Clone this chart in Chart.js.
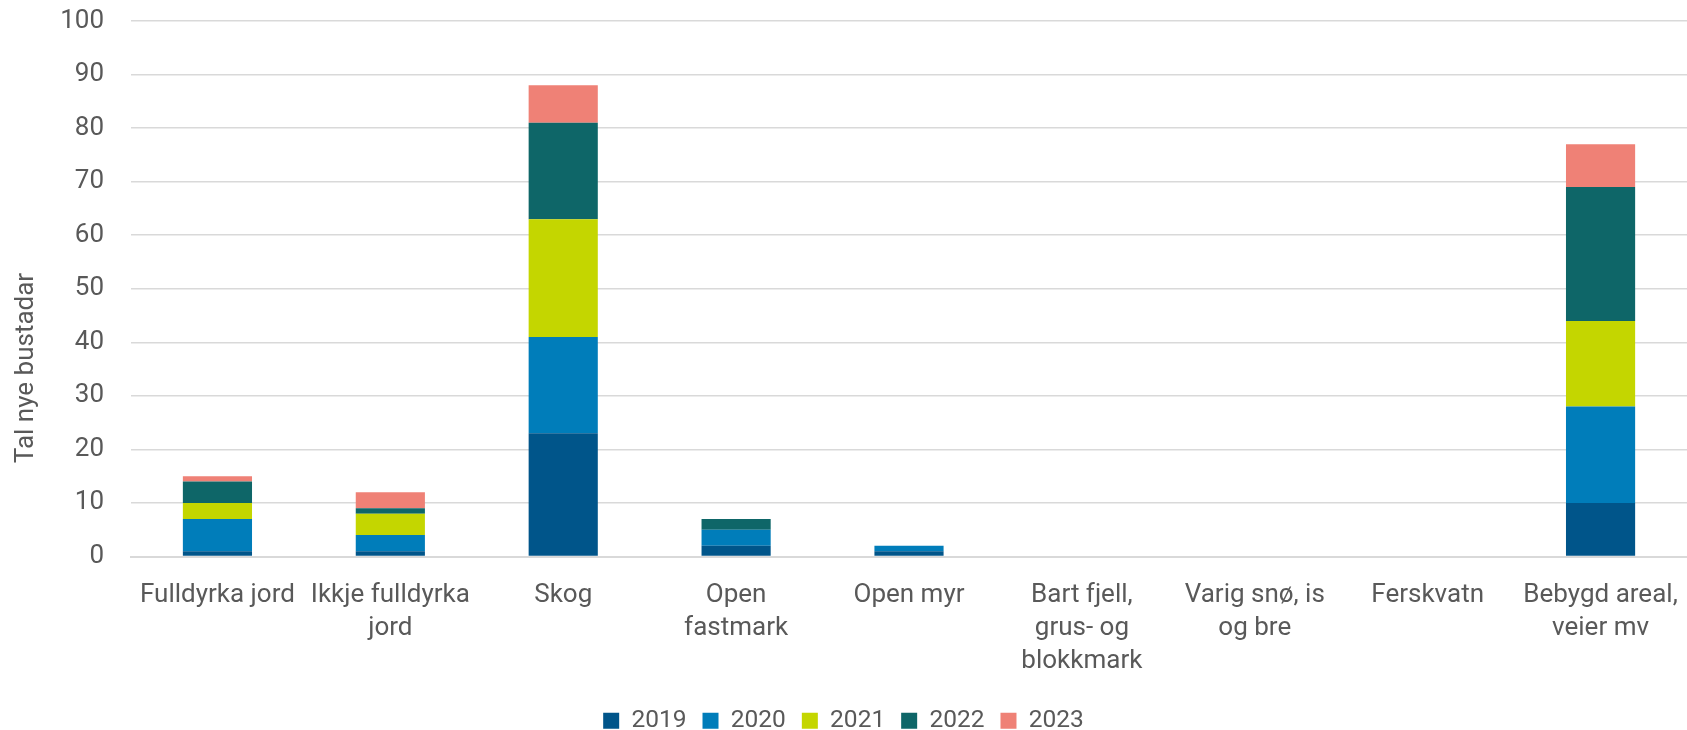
<!DOCTYPE html>
<html>
<head>
<meta charset="utf-8">
<script src="https://cdn.jsdelivr.net/npm/chart.js@4.4.1/dist/chart.umd.min.js"></script>
<style>
  html, body { margin: 0; padding: 0; background: #ffffff; }
  #wrap { width: 1687px; height: 730px; position: relative; }
</style>
</head>
<body>
<div id="wrap"><canvas id="c" width="1687" height="730"></canvas></div>
<script>
const categories = [
  "Fulldyrka jord",
  ["Ikkje fulldyrka", "jord"],
  "Skog",
  ["Open", "fastmark"],
  "Open myr",
  ["Bart fjell,", "grus- og", "blokkmark"],
  ["Varig snø, is", "og bre"],
  "Ferskvatn",
  ["Bebygd areal,", "veier mv"]
];
const years = ["2019", "2020", "2021", "2022", "2023"];
const values2019 = [1, 1, 23, 2, 1, 0, 0, 0, 10];
const values2020 = [6, 3, 18, 3, 1, 0, 0, 0, 18];
const values2021 = [3, 4, 22, 0, 0, 0, 0, 0, 16];
const values2022 = [4, 1, 18, 2, 0, 0, 0, 0, 25];
const values2023 = [1, 3, 7, 0, 0, 0, 0, 0, 8];
const yTicks = [0, 10, 20, 30, 40, 50, 60, 70, 80, 90, 100];
const yTitle = "Tal nye bustadar";

const colors = ["#00558a", "#007dba", "#c4d600", "#0e6668", "#ef8176"];
const seriesValues = [values2019, values2020, values2021, values2022, values2023];

const FONT = "Roboto, 'Liberation Sans', sans-serif";
const TEXT = "#595959";

const yTitlePlugin = {
  id: "yTitlePlugin",
  afterDraw(chart) {
    const ctx = chart.ctx;
    ctx.save();
    ctx.font = "26px " + FONT;
    ctx.fillStyle = TEXT;
    ctx.textAlign = "center";
    ctx.textBaseline = "alphabetic";
    ctx.translate(33, 368);
    ctx.rotate(-Math.PI / 2);
    ctx.fillText(yTitle, 0, 0);
    ctx.restore();
  }
};

new Chart(document.getElementById("c"), {
  type: "bar",
  data: {
    labels: categories,
    datasets: years.map((y, i) => ({
      label: y,
      data: seriesValues[i],
      backgroundColor: colors[i],
      borderWidth: 0,
      barPercentage: 0.4,
      categoryPercentage: 1.0
    }))
  },
  plugins: [yTitlePlugin],
  options: {
    responsive: false,
    animation: false,
    devicePixelRatio: 1,
    layout: { padding: { left: 0, right: 0, top: 0, bottom: -13 } },
    plugins: {
      legend: {
        position: "bottom",
        labels: {
          font: { family: FONT, size: 24.5 },
          color: TEXT,
          boxWidth: 16,
          boxHeight: 16,
          padding: 16
        }
      },
      tooltip: { enabled: false }
    },
    scales: {
      x: {
        stacked: true,
        grid: { display: false, drawTicks: false },
        border: { display: true, color: "#d9d9d9", width: 2 },
        afterFit: (s) => { s.height = 136; s.paddingLeft = 0; s.paddingRight = 0; },
        ticks: {
          font: { family: FONT, size: 26, lineHeight: 1.28 },
          color: TEXT,
          maxRotation: 0,
          minRotation: 0,
          autoSkip: false,
          padding: 22
        }
      },
      y: {
        stacked: true,
        min: 0,
        max: 100,
        afterBuildTicks: (axis) => { axis.ticks = yTicks.map(v => ({ value: v })); },
        afterFit: (s) => { s.width = 131; s.paddingTop = 21; s.paddingBottom = 0; },
        grid: { color: "#d9d9d9", lineWidth: 1.5, drawTicks: false },
        border: { display: false },
        ticks: {
          font: { family: FONT, size: 26 },
          color: TEXT,
          padding: 27
        },
        title: { display: false }
      }
    }
  }
});
</script>
</body>
</html>
